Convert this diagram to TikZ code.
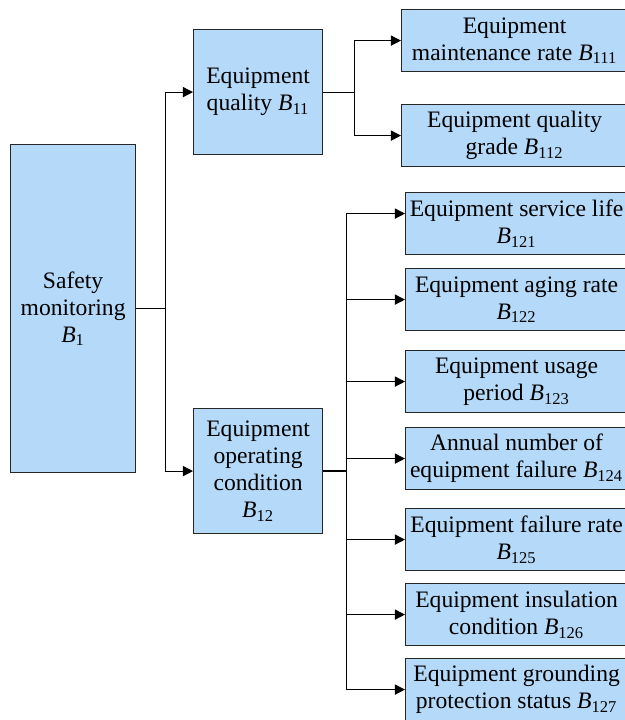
\documentclass[tikz,border=0pt]{standalone}
\usepackage{fontspec}
\setmainfont{Liberation Serif}
\usepackage{xcolor}
\usepackage{tikz}
\usetikzlibrary{arrows.meta}

\definecolor{boxblue}{RGB}{181,217,248}
\newcommand{\Bi}[1]{\textit{B}\textsubscript{#1}}

\begin{document}
\begin{tikzpicture}[x=0.5pt,y=-0.5pt,
    box/.style={draw=black!85, line width=0.6pt, fill=boxblue, anchor=north west,
      align=center, inner sep=0pt, font=\fontsize{11.8}{13.5}\selectfont},
    rootbox/.style={box, minimum width=62.5pt, minimum height=164pt},
    midbox/.style={box, minimum width=64.5pt, minimum height=62.5pt},
    leafa/.style={box, minimum width=113pt, minimum height=31pt},
    leafb/.style={box, minimum width=111pt, minimum height=31pt},
    arr/.style={-{Triangle[length=5pt,width=5pt]}, line width=0.6pt}]
    \useasboundingbox (0,0) rectangle (625,720);
    % left part
    \node [rootbox] (b1) at (10,144) {Safety\\monitoring\\\Bi{1}};
    \node [midbox] (b11) at (193,29) {Equipment\\quality \Bi{11}};
    \node [midbox] (b12) at (193,408) {Equipment\\operating\\condition\\\Bi{12}};
    % right part
    \node [leafa] (b111) at (401,9) {Equipment\\maintenance rate \Bi{111}};
    \node [leafa] (b112) at (401,104) {Equipment quality\\grade \Bi{112}};
    \node [leafb] (b121) at (405,192) {Equipment service life\\\Bi{121}};
    \node [leafb] (b122) at (405,268) {Equipment aging rate\\\Bi{122}};
    \node [leafb] (b123) at (405,350) {Equipment usage\\period \Bi{123}};
    \node [leafb] (b124) at (405,427) {Annual number of\\equipment failure \Bi{124}};
    \node [leafb] (b125) at (405,508) {Equipment failure rate\\\Bi{125}};
    \node [leafb] (b126) at (405,583) {Equipment insulation\\condition \Bi{126}};
    \node [leafb] (b127) at (405,658) {Equipment grounding\\protection status \Bi{127}};
    % connectors
    \draw [arr] (b1.east) -- ++(29,0) |- (b11.west);
    \draw [arr] (b1.east) -- ++(29,0) |- (b12.west);
    \draw [arr] (b11.east) -- ++(31,0) |- (b111.west);
    \draw [arr] (b11.east) -- ++(31,0) |- (b112.west);
    \draw [line width=1.1pt] (b12.east) -- ++(23,0);
    \draw [arr] (b12.east) -- ++(23,0) |- ([yshift=5pt]b121.west);
    \draw [arr] (b12.east) -- ++(23,0) |- (b122.west);
    \draw [arr] (b12.east) -- ++(23,0) |- (b123.west);
    \draw [arr] (b12.east) -- ++(23,0) |- (b124.west);
    \draw [arr] (b12.east) -- ++(23,0) |- (b125.west);
    \draw [arr] (b12.east) -- ++(23,0) |- (b126.west);
    \draw [arr] (b12.east) -- ++(23,0) |- (b127.west);
\end{tikzpicture}
\end{document}
